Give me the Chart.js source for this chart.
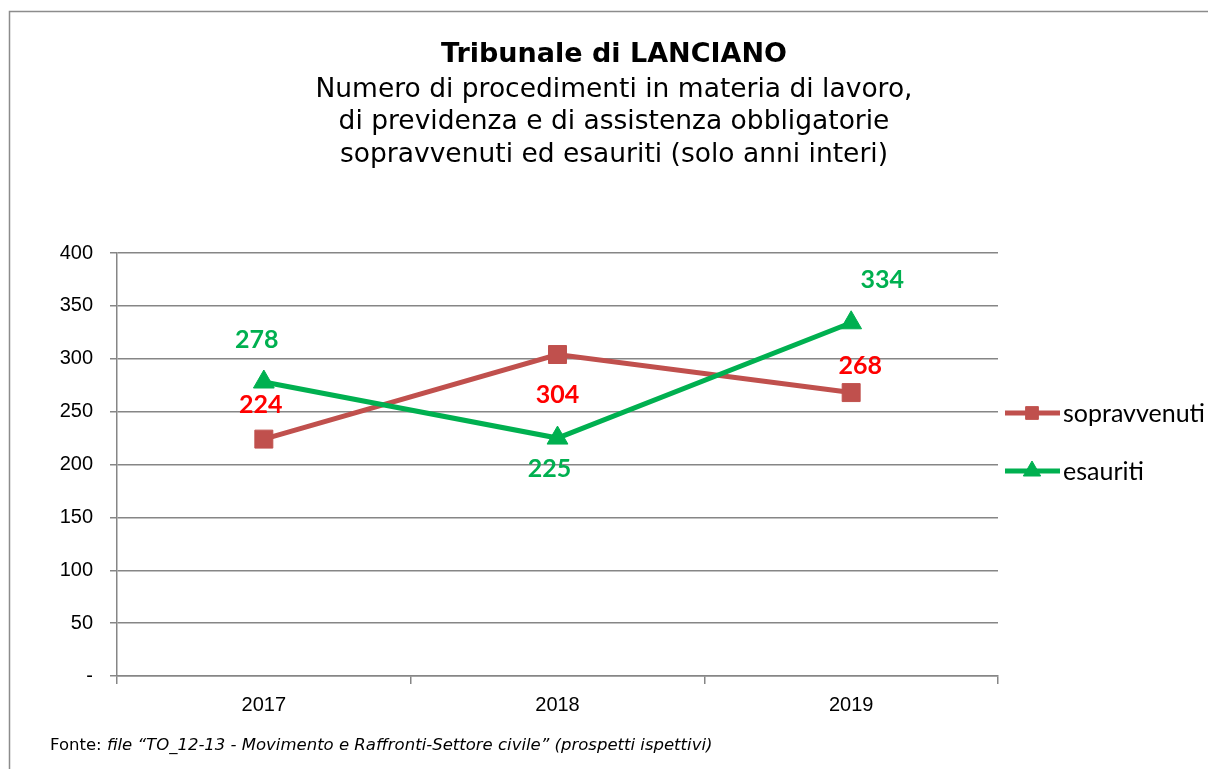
<!DOCTYPE html>
<html>
<head>
<meta charset="utf-8">
<title>Tribunale di LANCIANO</title>
<script src="https://cdn.jsdelivr.net/npm/chart.js@4.4.1/dist/chart.umd.min.js"></script>
<style>
  html, body { margin: 0; padding: 0; background: #fff; }
  #wrap { width: 1208px; height: 769px; position: relative; }
</style>
</head>
<body>
<div id="wrap"><canvas id="grafico" width="1208" height="769"></canvas></div>
<script>
// dati
const anni = ['2017', '2018', '2019'];
const sopravvenuti = [224, 304, 268];
const esauriti = [278, 225, 334];
const yMax = 400;
const yStep = 50;

const titolo = 'Tribunale di LANCIANO';
const sottotitolo = [
    'Numero di procedimenti in materia di lavoro,',
    'di previdenza e di assistenza obbligatorie',
    'sopravvenuti ed esauriti (solo anni interi)'
];
const fonteNormale = 'Fonte: ';
const fonteCorsivo = 'file \u201cTO_12-13 - Movimento e Raffronti-Settore civile\u201d (prospetti ispettivi)';

// spostamento delle etichette rispetto al punto (solo stile)
const offsetSopravvenuti = [[-3, -34], [0, 40], [9, -27]];
const offsetEsauriti = [[-7, -42], [-8, 31], [31, -43]];

const GRIGIO = '#868686';

// cornice, titolo e nota in basso
const cornice = {
    id: 'cornice',
    beforeDraw(chart) {
        const ctx = chart.ctx;
        ctx.save();
        ctx.fillStyle = '#fff';
        ctx.fillRect(0, 0, chart.width, chart.height);
        ctx.strokeStyle = '#8c8c8c';
        ctx.lineWidth = 1.5;
        ctx.strokeRect(9.5, 11.5, 1300, 900);
        ctx.restore();
    },
    afterDraw(chart) {
        const ctx = chart.ctx;
        ctx.save();
        ctx.fillStyle = '#000';
        ctx.textAlign = 'center';
        ctx.textBaseline = 'alphabetic';
        ctx.font = 'bold 27px "DejaVu Sans"';
        ctx.fillText(titolo, 614, 62);
        ctx.font = '26.5px "DejaVu Sans"';
        sottotitolo.forEach((riga, i) => {
            ctx.fillText(riga, 614, 96.5 + i * 32.5);
        });

        ctx.textAlign = 'left';
        ctx.textBaseline = 'middle';
        ctx.font = '16.5px "DejaVu Sans"';
        ctx.fillText(fonteNormale, 50, 746);
        const w = ctx.measureText(fonteNormale).width;
        ctx.font = 'italic 16.5px "DejaVu Sans"';
        ctx.fillText(fonteCorsivo, 50 + w, 746);
        ctx.restore();
    }
};

// etichette dei valori
const etichette = {
    id: 'etichette',
    afterDatasetsDraw(chart) {
        const ctx = chart.ctx;
        ctx.save();
        ctx.font = 'bold 25px Lato, "Liberation Sans"';
        ctx.textAlign = 'center';
        ctx.textBaseline = 'middle';
        chart.data.datasets.forEach((ds, i) => {
            const meta = chart.getDatasetMeta(i);
            ctx.fillStyle = ds.labelColor;
            meta.data.forEach((p, j) => {
                const off = ds.labelOffset[j];
                ctx.fillText(String(ds.data[j]), p.x + off[0], p.y + off[1]);
            });
        });
        ctx.restore();
    }
};

// legenda a destra con linea + marcatore
const legenda = {
    id: 'legenda',
    afterDraw(chart) {
        const ctx = chart.ctx;
        const righe = [413, 471];
        ctx.save();
        chart.data.datasets.forEach((ds, i) => {
            const y = righe[i];
            ctx.strokeStyle = ds.borderColor;
            ctx.fillStyle = ds.borderColor;
            ctx.lineWidth = 5;
            ctx.beginPath();
            ctx.moveTo(1005, y);
            ctx.lineTo(1060, y);
            ctx.stroke();
            ctx.lineWidth = 1;
            Chart.helpers.drawPoint(ctx, {
                pointStyle: ds.pointStyle,
                radius: ds.pointStyle === 'rect' ? 9 : 10,
                borderWidth: 1,
                rotation: 0
            }, 1032, y);
            ctx.fillStyle = '#000';
            ctx.font = '25px Lato, "Liberation Sans"';
            ctx.textBaseline = 'middle';
            ctx.fillText(ds.label, 1063, y + 1);
        });
        ctx.restore();
    }
};

new Chart(document.getElementById('grafico'), {
    type: 'line',
    data: {
        labels: anni,
        datasets: [
            {
                label: 'sopravvenuti',
                data: sopravvenuti,
                borderColor: '#C0504D',
                backgroundColor: '#C0504D',
                borderWidth: 5,
                pointStyle: 'rect',
                pointRadius: 12.7,
                pointBorderWidth: 1,
                pointBackgroundColor: '#C0504D',
                tension: 0,
                order: 1,
                labelColor: '#FF0000',
                labelOffset: offsetSopravvenuti
            },
            {
                label: 'esauriti',
                data: esauriti,
                borderColor: '#00B050',
                backgroundColor: '#00B050',
                borderWidth: 5,
                pointStyle: 'triangle',
                pointRadius: 12,
                pointBorderWidth: 1,
                pointBackgroundColor: '#00B050',
                tension: 0,
                order: 0,
                labelColor: '#00B050',
                labelOffset: offsetEsauriti
            }
        ]
    },
    options: {
        responsive: false,
        animation: false,
        layout: { padding: { left: 60, right: 210, top: 253, bottom: 43 } },
        plugins: {
            legend: { display: false },
            tooltip: { enabled: false },
            title: { display: false }
        },
        scales: {
            x: {
                offset: true,
                grid: {
                    offset: true,
                    drawOnChartArea: false,
                    drawTicks: true,
                    tickLength: 8,
                    color: GRIGIO,
                    lineWidth: 1.5
                },
                border: { color: GRIGIO, width: 1.5 },
                ticks: {
                    color: '#000',
                    padding: 9,
                    font: { family: '"Liberation Sans"', size: 20 }
                },
                afterFit(scale) { scale.height = 50; }
            },
            y: {
                min: 0,
                max: yMax,
                grid: {
                    color: GRIGIO,
                    lineWidth: 1.5,
                    tickLength: 7
                },
                border: { color: GRIGIO, width: 1.5 },
                ticks: {
                    stepSize: yStep,
                    color: '#000',
                    padding: 17,
                    font: { family: '"Liberation Sans"', size: 20 },
                    callback: v => v === 0 ? '-' : v
                },
                afterFit(scale) { scale.width = 57; }
            }
        }
    },
    plugins: [cornice, etichette, legenda]
});
</script>
</body>
</html>
